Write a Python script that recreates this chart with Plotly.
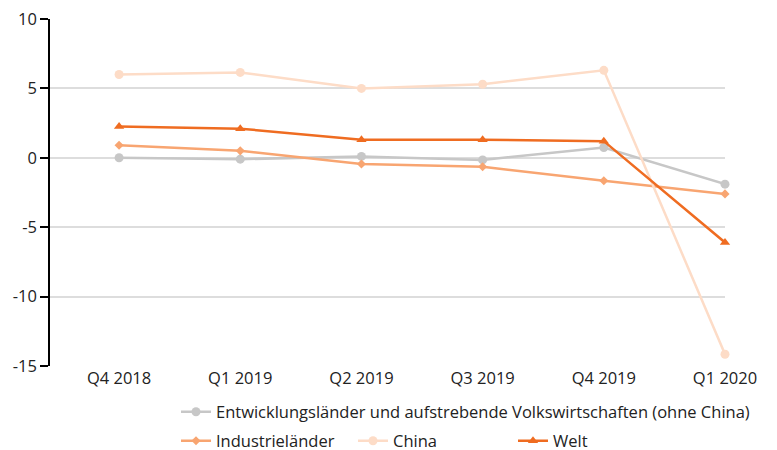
import plotly.graph_objects as go

quarters = ["Q4 2018", "Q1 2019", "Q2 2019", "Q3 2019", "Q4 2019", "Q1 2020"]
emerging = [0.0, -0.1, 0.1, -0.15, 0.74, -1.9]
advanced = [0.9, 0.5, -0.45, -0.65, -1.65, -2.6]
china = [6.0, 6.15, 5.0, 5.3, 6.3, -14.15]
world = [2.25, 2.1, 1.3, 1.3, 1.2, -6.1]

names = [
    "Entwicklungsländer und aufstrebende Volkswirtschaften (ohne China)",
    "Industrieländer",
    "China",
    "Welt",
]
y_ticks = [10, 5, 0, -5, -10, -15]

FONT = "Open Sans"
FS = 16.5
W, H = 777, 450
series = [
    (names[0], emerging, "#c7c7c7", "circle", 9, "legend"),
    (names[1], advanced, "#f8a571", "diamond", 7, "legend2"),
    (names[2], china, "#fddcc7", "circle", 9, "legend3"),
    (names[3], world, "#ef6c21", "triangle-up", 9, "legend4"),
]

fig = go.Figure()
for name, vals, color, symbol, size, leg in series:
    fig.add_trace(go.Scatter(
        x=quarters, y=vals, name=name, mode="lines+markers",
        line=dict(color=color, width=2.5),
        marker=dict(color=color, symbol=symbol, size=size),
        cliponaxis=False, legend=leg,
    ))

legend_base = dict(
    orientation="h", xanchor="left", yanchor="middle",
    xref="container", yref="container",
    font=dict(family=FONT, size=FS, color="#222222"),
    bgcolor="rgba(0,0,0,0)", itemwidth=30, tracegroupgap=0,
)
def cx(px):
    return px / W
def cy(py):
    return 1 - py / H

fig.update_layout(
    width=W, height=H,
    margin=dict(l=50, r=52, t=19, b=84, autoexpand=False),
    paper_bgcolor="white", plot_bgcolor="white",
    font=dict(family=FONT, size=FS, color="#222222"),
    showlegend=True,
    legend=dict(legend_base, x=cx(176), y=cy(412)),
    legend2=dict(legend_base, x=cx(176), y=cy(441)),
    legend3=dict(legend_base, x=cx(353), y=cy(441)),
    legend4=dict(legend_base, x=cx(513), y=cy(441)),
    xaxis=dict(
        type="category", range=[-0.57, 5.0],
        showgrid=False, showline=False, zeroline=False,
        ticks="", ticklen=6,
        tickfont=dict(family=FONT, size=FS, color="#222222"),
    ),
    yaxis=dict(
        range=[-15, 10], tickvals=y_ticks, ticktext=[str(v) for v in y_ticks],
        showgrid=True, gridcolor="#dddddd", gridwidth=1.5,
        zeroline=False, showline=True, linecolor="#000000", linewidth=1.5,
        ticks="outside", ticklen=8, tickcolor="#000000", tickwidth=1.5,
        tickfont=dict(family=FONT, size=FS, color="#222222"),
    ),
)

fig.write_html("out.html")
